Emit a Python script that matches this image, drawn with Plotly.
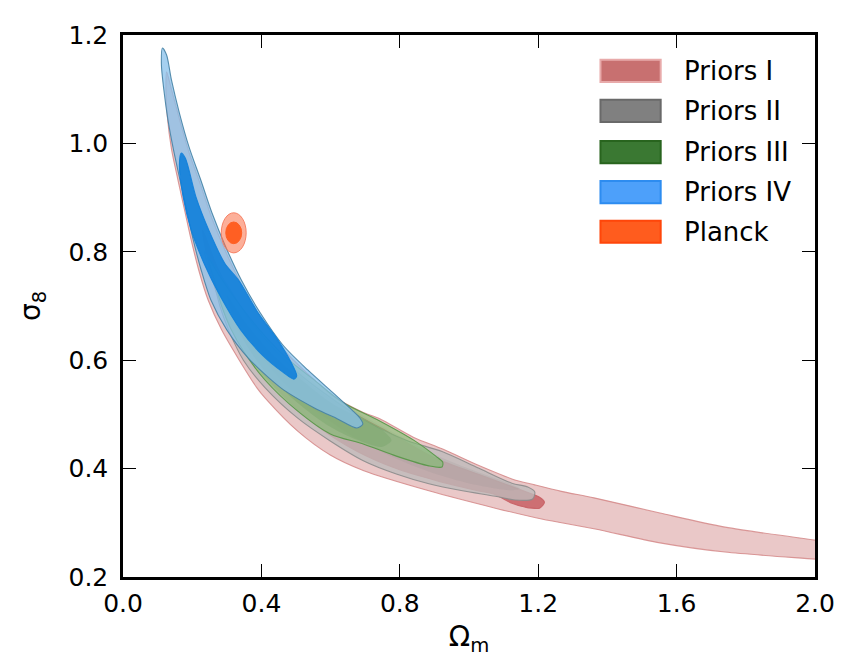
import plotly.graph_objects as go

# ---------------- data ----------------
X_TICKS = [0.0, 0.4, 0.8, 1.2, 1.6, 2.0]
Y_TICKS = [0.2, 0.4, 0.6, 0.8, 1.0, 1.2]

SERIES_NAMES = ["Priors I", "Priors II", "Priors III", "Priors IV", "Planck"]
SERIES_COLORS = ["rgb(200,112,112)", "rgb(128,128,128)", "rgb(58,120,50)",
                 "rgb(77,160,250)", "rgb(255,92,30)"]
SERIES_EDGES = ["rgb(232,170,170)", "rgb(105,105,105)", "rgb(40,100,30)",
                "rgb(45,140,240)", "rgb(255,70,10)"]

# Priors I (95% and 68% contours)
P1_95_X = [2.103, 2.000, 1.740, 1.552, 1.361, 1.267, 1.190, 1.124, 1.027, 0.924, 0.839, 0.742,
           0.690, 0.605, 0.534, 0.462, 0.397, 0.342, 0.297, 0.257, 0.225, 0.191, 0.163, 0.140,
           0.126, 0.124, 0.128, 0.140, 0.159, 0.178, 0.197, 0.219, 0.246, 0.285, 0.336, 0.387,
           0.411, 0.505, 0.599, 0.696, 0.884, 1.076, 1.210, 1.361, 1.552, 1.740, 2.000, 2.103]
P1_95_Y = [0.259, 0.268, 0.292, 0.318, 0.346, 0.358, 0.370, 0.381, 0.406, 0.436, 0.458, 0.492,
           0.505, 0.535, 0.575, 0.621, 0.680, 0.740, 0.800, 0.862, 0.922, 0.983, 1.045, 1.100,
           1.132, 1.100, 1.050, 0.990, 0.932, 0.877, 0.822, 0.766, 0.711, 0.656, 0.600, 0.549,
           0.530, 0.469, 0.425, 0.396, 0.359, 0.327, 0.307, 0.289, 0.263, 0.246, 0.233, 0.228]
P1_68_X = [0.230, 0.270, 0.330, 0.420, 0.520, 0.630, 0.760, 0.900, 1.047, 1.161, 1.204, 1.218,
           1.204, 1.161, 1.124, 1.076, 1.019, 0.904, 0.790, 0.676, 0.562, 0.462, 0.377, 0.305,
           0.260, 0.230]
P1_68_Y = [0.840, 0.775, 0.700, 0.625, 0.565, 0.515, 0.470, 0.420, 0.385, 0.358, 0.347, 0.338,
           0.327, 0.329, 0.336, 0.352, 0.360, 0.378, 0.400, 0.432, 0.478, 0.535, 0.598, 0.672,
           0.745, 0.840]

# Priors II
P2_95_X = [0.235, 0.300, 0.360, 0.430, 0.500, 0.580, 0.660, 0.740, 0.820, 0.924, 1.027, 1.124,
           1.170, 1.190, 1.184, 1.133, 1.076, 0.981, 0.884, 0.790, 0.696, 0.599, 0.505, 0.411,
           0.348, 0.305, 0.280, 0.262, 0.235]
P2_95_Y = [0.800, 0.740, 0.680, 0.625, 0.580, 0.540, 0.505, 0.475, 0.452, 0.431, 0.401, 0.373,
           0.366, 0.357, 0.344, 0.342, 0.349, 0.359, 0.372, 0.390, 0.414, 0.451, 0.493, 0.549,
           0.600, 0.656, 0.700, 0.745, 0.800]
P2_68_X = [0.270, 0.320, 0.400, 0.500, 0.600, 0.700, 0.800, 0.904, 1.019, 1.118, 1.147, 1.118,
           1.019, 0.904, 0.790, 0.676, 0.562, 0.462, 0.380, 0.320, 0.270]
P2_68_Y = [0.760, 0.710, 0.645, 0.585, 0.535, 0.495, 0.460, 0.425, 0.395, 0.372, 0.363, 0.360,
           0.370, 0.390, 0.418, 0.455, 0.505, 0.560, 0.625, 0.680, 0.760]

# Priors III
P3_95_X = [0.245, 0.280, 0.340, 0.410, 0.480, 0.548, 0.633, 0.742, 0.839, 0.904, 0.924, 0.922,
           0.884, 0.790, 0.696, 0.599, 0.505, 0.411, 0.350, 0.310, 0.285, 0.265, 0.245]
P3_95_Y = [0.790, 0.755, 0.700, 0.645, 0.600, 0.566, 0.523, 0.488, 0.453, 0.423, 0.412, 0.403,
           0.405, 0.423, 0.445, 0.464, 0.506, 0.563, 0.615, 0.660, 0.700, 0.745, 0.790]
P3_68_X = [0.300, 0.360, 0.434, 0.519, 0.605, 0.690, 0.747, 0.776, 0.747, 0.676, 0.591, 0.505,
           0.419, 0.360, 0.320, 0.300]
P3_68_Y = [0.720, 0.665, 0.610, 0.562, 0.520, 0.492, 0.472, 0.452, 0.440, 0.453, 0.480, 0.521,
           0.573, 0.625, 0.675, 0.720]

# Priors IV
P4_95_X = [0.114, 0.126, 0.140, 0.163, 0.191, 0.225, 0.257, 0.297, 0.342, 0.397, 0.462, 0.534,
           0.605, 0.662, 0.685, 0.693, 0.676, 0.619, 0.553, 0.456, 0.362, 0.300, 0.254, 0.226,
           0.203, 0.184, 0.165, 0.146, 0.130, 0.118, 0.111, 0.114]
P4_95_Y = [1.176, 1.163, 1.117, 1.056, 0.993, 0.932, 0.872, 0.809, 0.748, 0.687, 0.628, 0.582,
           0.541, 0.508, 0.493, 0.482, 0.475, 0.492, 0.512, 0.549, 0.604, 0.656, 0.711, 0.766,
           0.822, 0.877, 0.932, 0.988, 1.043, 1.099, 1.145, 1.176]
P4_68_X = [0.168, 0.180, 0.211, 0.248, 0.294, 0.334, 0.391, 0.448, 0.485, 0.502, 0.494, 0.462,
           0.405, 0.340, 0.282, 0.234, 0.197, 0.174, 0.163, 0.168]
P4_68_Y = [0.982, 0.973, 0.901, 0.840, 0.779, 0.748, 0.687, 0.637, 0.597, 0.571, 0.565, 0.578,
           0.608, 0.656, 0.717, 0.779, 0.840, 0.901, 0.960, 0.982]

# Planck: centre and half-widths of the 68% / 95% regions (Omega_m, sigma_8)
PLANCK_CENTER = [0.320, 0.835]
PLANCK_68 = [0.023, 0.020]
PLANCK_95 = [0.036, 0.037]

# ---------------- figure ----------------
FONT = "DejaVu Sans"
fig = go.Figure()

contours = [
    (P1_95_X, P1_95_Y, "rgba(200,110,110,0.38)", "rgba(210,130,130,0.8)"),
    (P1_68_X, P1_68_Y, "rgba(200,95,100,0.85)", "rgba(200,95,100,0.9)"),
    (P2_95_X, P2_95_Y, "rgba(190,186,186,0.8)", "rgba(140,140,140,0.9)"),
    (P2_68_X, P2_68_Y, "rgba(150,145,145,0.18)", "rgba(150,145,145,0.0)"),
    (P3_95_X, P3_95_Y, "rgba(125,190,110,0.6)", "rgba(85,150,70,0.9)"),
    (P3_68_X, P3_68_Y, "rgba(90,150,80,0.22)", "rgba(90,150,80,0.0)"),
    (P4_95_X, P4_95_Y, "rgba(135,192,235,0.75)", "rgba(70,130,165,0.9)"),
    (P4_68_X, P4_68_Y, "rgba(15,128,218,0.9)", "rgba(15,128,218,0.9)"),
]
for xs, ys, fc, lc in contours:
    fig.add_trace(go.Scatter(
        x=xs, y=ys, mode="lines", fill="toself", fillcolor=fc,
        line=dict(color=lc, width=1.1, shape="spline", smoothing=0.8),
        hoverinfo="skip", showlegend=False))

# Planck ellipses (data-referenced)
for half, fc, lc in [(PLANCK_95, "rgba(250,110,70,0.55)", "rgba(245,120,90,0.9)"),
                     (PLANCK_68, "rgb(255,95,35)", "rgb(255,95,35)")]:
    fig.add_shape(type="circle", xref="x", yref="y",
                  x0=PLANCK_CENTER[0] - half[0], x1=PLANCK_CENTER[0] + half[0],
                  y0=PLANCK_CENTER[1] - half[1], y1=PLANCK_CENTER[1] + half[1],
                  fillcolor=fc, line=dict(color=lc, width=1), layer="above")

# Custom legend (patches + labels)
row_y = [0.934, 0.860, 0.784, 0.710, 0.637]
for name, col, edge, yy in zip(SERIES_NAMES, SERIES_COLORS, SERIES_EDGES, row_y):
    fig.add_shape(type="rect", xref="paper", yref="paper",
                  x0=0.690, x1=0.777, y0=yy - 0.0205, y1=yy + 0.0205,
                  fillcolor=col, line=dict(color=edge, width=2), layer="above")
    fig.add_annotation(xref="paper", yref="paper", x=0.808, y=yy, text=name,
                       showarrow=False, xanchor="left", yanchor="middle",
                       font=dict(family=FONT, size=26, color="black"))

axis_common = dict(showgrid=False, zeroline=False, showline=True, linecolor="black",
                   linewidth=2.5, mirror="ticks", ticks="inside", ticklen=13,
                   tickwidth=1.3, tickcolor="black",
                   tickfont=dict(family=FONT, size=25, color="black"))

fig.update_layout(
    width=839, height=660, autosize=False,
    margin=dict(l=115, r=23, t=27, b=91),
    paper_bgcolor="white", plot_bgcolor="white",
    showlegend=False,
    xaxis=dict(range=[0, 2.0], tickvals=X_TICKS, ticktext=[f"{v:.1f}" for v in X_TICKS],
               ticklabelstandoff=2,
               title=dict(text="Ω<sub>m</sub>", font=dict(family=FONT, size=28, color="black"),
                          standoff=10),
               **axis_common),
    yaxis=dict(range=[0.2, 1.2], tickvals=Y_TICKS, ticktext=[f"{v:.1f}" for v in Y_TICKS],
               ticklabelstandoff=7,
               title=dict(text="σ<sub>8</sub>", font=dict(family=FONT, size=28, color="black"),
                          standoff=20),
               **axis_common),
)

fig.write_html("out.html", config={"displayModeBar": False})
